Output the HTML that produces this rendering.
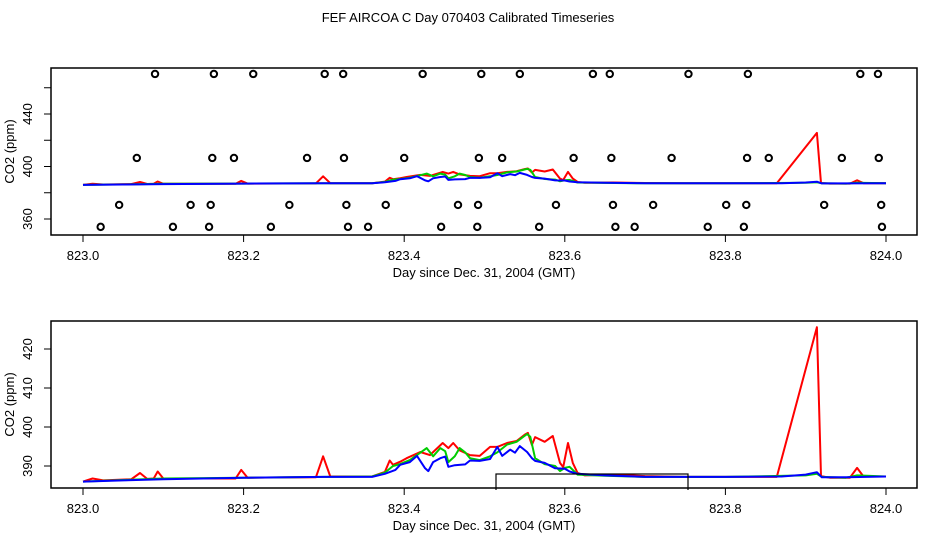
<!DOCTYPE html>
<html><head><meta charset="utf-8"><style>
body{margin:0;background:#fff}
svg{display:block;font-family:"Liberation Sans",Helvetica,sans-serif}
</style></head><body>
<svg id="chart" width="936" height="540" viewBox="0 0 936 540" xmlns="http://www.w3.org/2000/svg">
<rect width="936" height="540" fill="#fff"/>
<text x="468" y="22" font-size="13" text-anchor="middle">FEF AIRCOA C  Day 070403  Calibrated Timeseries</text>
<g id="top"></g>
<g id="bot"></g>
</svg>
<script>
const redDays=[0,0.012,0.025,0.06,0.071,0.08,0.088,0.093,0.1,0.19,0.197,0.205,0.29,0.299,0.308,0.36,0.376,0.382,0.386,0.395,0.403,0.420,0.432,0.448,0.455,0.461,0.469,0.482,0.494,0.507,0.516,0.528,0.540,0.550,0.554,0.559,0.563,0.575,0.585,0.594,0.598,0.604,0.610,0.616,0.625,0.66,0.7,0.75,0.8,0.864,0.914,0.919,0.93,0.955,0.964,0.972,1.0];
const redVals=[386,386.8,386.3,386.6,388.2,386.7,386.8,388.6,386.8,386.8,389,387,387.1,392.5,387.3,387.3,388.5,391.4,390.3,391.1,392,393.6,392.8,395.9,394.6,395.9,394,392.8,392.6,394.9,394.9,395.9,396.4,398,398.5,395.4,397.4,396.2,397.7,390.8,389.7,395.9,390.8,388.2,387.6,387.8,387.4,387.2,387.2,387.2,425.6,387.4,387.0,387.0,389.5,387.3,387.3];
const greenDays=[0,0.05,0.1,0.2,0.3,0.36,0.376,0.386,0.395,0.407,0.420,0.428,0.436,0.445,0.451,0.455,0.463,0.469,0.476,0.482,0.494,0.507,0.516,0.528,0.540,0.553,0.557,0.563,0.575,0.588,0.594,0.600,0.606,0.616,0.65,0.7,0.8,0.9,0.914,0.92,0.95,0.964,1.0];
const greenVals=[386,386.4,386.8,387,387.2,387.3,388.3,390,390.5,391.5,393.4,394.6,392.5,394.6,393.8,391,392.5,394.6,393.5,392,391.5,392.5,393.5,395.5,396.2,398.2,397.5,392,390.5,390,388.7,389.5,389.8,387.8,387.5,387.2,387.2,387.6,388,387.2,387,387.6,387.3];
const blueDays=[0,0.05,0.1,0.2,0.3,0.36,0.376,0.389,0.395,0.407,0.416,0.426,0.430,0.436,0.445,0.451,0.455,0.463,0.476,0.482,0.494,0.507,0.516,0.522,0.532,0.538,0.544,0.553,0.559,0.563,0.575,0.588,0.600,0.606,0.616,0.65,0.7,0.8,0.87,0.9,0.914,0.92,0.95,1.0];
const blueVals=[386,386.3,386.6,387,387.2,387.2,388,389,390.3,391,392.6,389.4,388.7,391,392,392.4,389.8,390.2,390.4,391.4,391.3,391.8,394.9,392.6,394.2,393.4,395.1,393.6,392,391.3,390.8,389.4,389.3,388.6,388,387.6,387.2,387.2,387.3,387.8,388.4,387.1,387.1,387.3];
const circleDays=[.0897,.163,.212,.301,.324,.423,.496,.544,.635,.656,.754,.828,.968,.990,
 .067,.161,.188,.279,.325,.400,.493,.522,.611,.658,.733,.827,.854,.945,.991,
 .045,.134,.159,.257,.328,.377,.467,.492,.589,.660,.710,.801,.826,.923,.994,
 .022,.112,.157,.234,.330,.355,.446,.491,.568,.663,.687,.778,.823,.995];
const circleVals=[470.5,470.5,470.5,470.5,470.5,470.5,470.5,470.5,470.5,470.5,470.5,470.5,470.5,470.5,
 406.5,406.5,406.5,406.5,406.5,406.5,406.5,406.5,406.5,406.5,406.5,406.5,406.5,406.5,406.5,
 370.7,370.7,370.7,370.7,370.7,370.7,370.7,370.7,370.7,370.7,370.7,370.7,370.7,370.7,370.7,
 354,354,354,354,354,354,354,354,354,354,354,354,354,354];
const xTicks=[823.0,823.2,823.4,823.6,823.8,824.0];
const xTickLabels=["823.0","823.2","823.4","823.6","823.8","824.0"];
const topYTicks=[360,380,400,420,440,460];
const topYLabels=["360","","400","","440",""];
const botYTicks=[390,400,410,420];
const botYLabels=["390","400","410","420"];

const NS="http://www.w3.org/2000/svg";
function el(tag,attrs,parent){const e=document.createElementNS(NS,tag);for(const k in attrs)e.setAttribute(k,attrs[k]);parent.appendChild(e);return e;}
const X0=51,X1=917;
const xs=d=>83+(d-823)*803;

function panel(g,name,top,bottom,yFn,yTicks,yLabels,showCircles){
  const cid='clip-'+name;
  const defs=el('defs',{},g);
  const cp=el('clipPath',{id:cid},defs);
  el('rect',{x:X0,y:top,width:X1-X0,height:bottom-top},cp);
  const plot=el('g',{'clip-path':'url(#'+cid+')'},g);
  
  
  if(showCircles){
    circleDays.forEach((d,i)=>{
      const c=el('circle',{cx:xs(823+d),cy:yFn(circleVals[i]),r:3.2,fill:'none',stroke:'#000','stroke-width':2},plot);
      
      
    });
  }
  [['red',redDays,redVals,'#ff0000'],['green',greenDays,greenVals,'#00cc00'],['blue',blueDays,blueVals,'#0000ff']].forEach(s=>{
    const pts=s[1].map((d,i)=>xs(823+d).toFixed(1)+','+yFn(s[2][i]).toFixed(1)).join(' ');
    const p=el('polyline',{points:pts,fill:'none',stroke:s[3],'stroke-width':2,'stroke-linejoin':'round'},plot);
    
    
  });
  const box=el('rect',{x:X0,y:top,width:X1-X0,height:bottom-top,fill:'none',stroke:'#000','stroke-width':1.5},g);
  
  
  xTicks.forEach((t,i)=>{
    const x=xs(t);
    const l=el('line',{x1:x,x2:x,y1:bottom,y2:bottom+7,stroke:'#000','stroke-width':1},g);
    
    
    const tx=el('text',{x:x,y:bottom+25,'font-size':13,'text-anchor':'middle'},g);
    tx.textContent=xTickLabels[i];
    
    
  });
  yTicks.forEach((t,i)=>{
    const y=yFn(t);
    const l=el('line',{x1:X0-7,x2:X0,y1:y,y2:y,stroke:'#000','stroke-width':1},g);
    
    
    if(yLabels[i]){
      const tx=el('text',{x:32,y:y,'font-size':13,'text-anchor':'middle',transform:'rotate(-90 32 '+y+')'},g);
      tx.textContent=yLabels[i];
      
      
    }
  });
  const xt=el('text',{x:484,y:bottom+42,'font-size':13,'text-anchor':'middle'},g);
  xt.textContent='Day since Dec. 31, 2004 (GMT)';
  
  
  const cy=(top+bottom)/2;
  const yt=el('text',{x:14,y:cy,'font-size':13,'text-anchor':'middle',transform:'rotate(-90 14 '+cy+')'},g);
  yt.textContent='CO2 (ppm)';
  
  
}
panel(document.getElementById('top'),'top',68,235,v=>219-(v-360)*1.3125,topYTicks,topYLabels,true);
const bot=document.getElementById('bot');
panel(bot,'bottom',321,488,v=>466-(v-390)*3.9,botYTicks,botYLabels,false);
// partially visible stats box, clipped to the plot region
const defs2=el('defs',{},bot);
const cp2=el('clipPath',{id:'clip-stats'},defs2);
el('rect',{x:X0,y:321,width:X1-X0,height:169},cp2);
const lg=el('g',{'clip-path':'url(#clip-stats)'},bot);


el('rect',{x:496,y:474,width:192,height:40,fill:'none',stroke:'#000','stroke-width':1.2},lg);
const t1=el('text',{x:557,y:499,'font-size':13,'text-anchor':'middle'},lg);t1.textContent='0.0';
const t2=el('text',{x:654,y:499,'font-size':13,'text-anchor':'middle'},lg);t2.textContent='17.0';
</script>
</body></html>
